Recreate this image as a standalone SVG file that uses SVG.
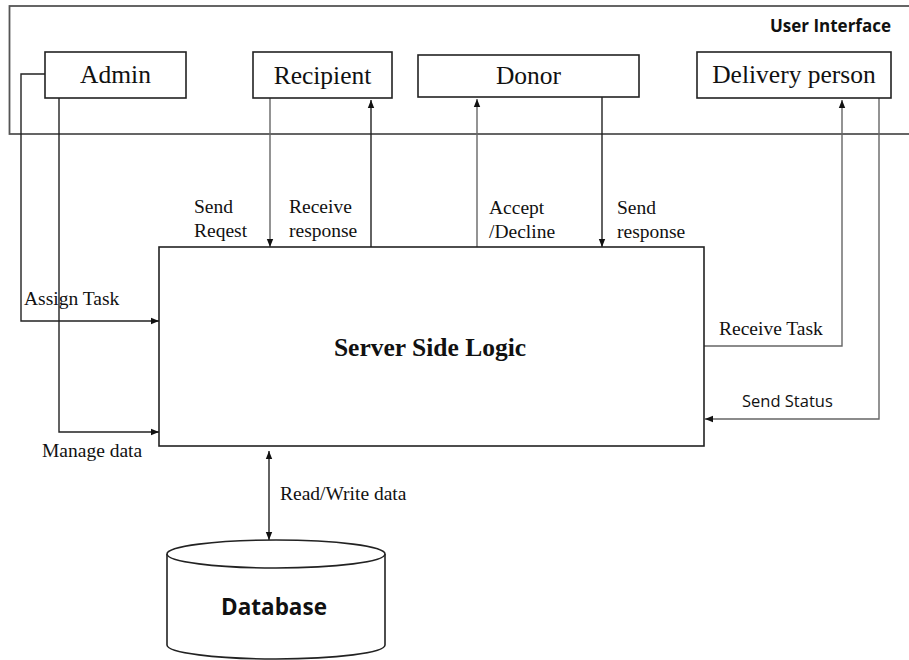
<svg xmlns="http://www.w3.org/2000/svg" width="909" height="660" viewBox="0 0 909 660">
<defs>
<marker id="arr" viewBox="0 0 10 10" refX="10" refY="5" markerWidth="9" markerHeight="8" markerUnits="userSpaceOnUse" orient="auto-start-reverse">
<path d="M0,1 L10,5 L0,9 z" fill="#111"/>
</marker>
</defs>
<style>
.box{fill:#fff;stroke:#222;stroke-width:1.6}
.outer{fill:none;stroke:#555;stroke-width:1.8}
.lbl{font-family:"Liberation Serif","Times New Roman",serif;font-size:25.5px;fill:#111;text-anchor:middle}
.cl{font-family:"Liberation Serif","Times New Roman",serif;font-size:19.5px;fill:#111}
.sans{font-family:"Open Sans","Noto Sans",sans-serif;fill:#111}
.con{fill:none;stroke:#222;stroke-width:1.4}
.gray{fill:none;stroke:#666;stroke-width:1.4}
</style>
<rect width="909" height="660" fill="#fff"/>
<g id="user-interface">
<rect class="outer" x="9.5" y="6" width="920" height="128"/>
<text class="sans" x="891" y="32" font-size="17" font-weight="bold" text-anchor="end">User Interface</text>
</g>
<g id="connectors">
<path class="con" d="M45,74 H21 V321 H159" marker-end="url(#arr)"/>
<path class="con" d="M59,98 V432 H159" marker-end="url(#arr)"/>
<path class="gray" d="M270,98 V247" marker-end="url(#arr)"/>
<path class="con" d="M371,251 V100" marker-end="url(#arr)"/>
<path class="gray" d="M477,251 V99" marker-end="url(#arr)"/>
<path class="con" d="M602,97 V247" marker-end="url(#arr)"/>
<path class="gray" d="M704,346 H842 V100" marker-end="url(#arr)"/>
<path class="gray" d="M879,98 V419 H705" marker-end="url(#arr)"/>
<path class="con" d="M269,451 V540" marker-start="url(#arr)" marker-end="url(#arr)"/>
<text class="cl" x="194" y="213">Send</text>
<text class="cl" x="194" y="237">Reqest</text>
<text class="cl" x="289" y="213">Receive</text>
<text class="cl" x="289" y="237">response</text>
<text class="cl" x="489" y="214">Accept</text>
<text class="cl" x="489" y="238">/Decline</text>
<text class="cl" x="617" y="214">Send</text>
<text class="cl" x="617" y="238">response</text>
<text class="cl" x="24" y="305">Assign Task</text>
<text class="cl" x="42" y="457">Manage data</text>
<text class="cl" x="719" y="335">Receive Task</text>
<text class="sans" x="742" y="407" font-size="16.5">Send Status</text>
<text class="cl" x="280" y="500">Read/Write data</text>
</g>
<g id="admin">
<rect class="box" x="45" y="52" width="141" height="46"/>
<text class="lbl" x="115.5" y="83">Admin</text>
</g>
<g id="recipient">
<rect class="box" x="253" y="52" width="139" height="46"/>
<text class="lbl" x="322.5" y="84">Recipient</text>
</g>
<g id="donor">
<rect class="box" x="418" y="55" width="221" height="42"/>
<text class="lbl" x="528.5" y="84">Donor</text>
</g>
<g id="delivery-person">
<rect class="box" x="697" y="52" width="194" height="46"/>
<text class="lbl" x="794" y="83">Delivery person</text>
</g>
<g id="server">
<rect class="box" x="159" y="247" width="545" height="199"/>
<text x="430" y="356" font-family="'Liberation Serif','Times New Roman',serif" font-size="25.5" font-weight="bold" text-anchor="middle" fill="#111">Server Side Logic</text>
</g>
<g id="database">
<path class="box" d="M167,554 V645 A109,14 0 0 0 385,645 V554"/>
<ellipse class="box" cx="276" cy="554" rx="109" ry="14"/>
<text class="sans" x="274" y="615" font-size="22.5" font-weight="bold" text-anchor="middle">Database</text>
</g>
</svg>
